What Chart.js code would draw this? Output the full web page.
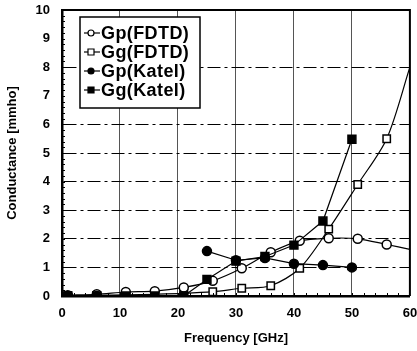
<!DOCTYPE html>
<html lang="en">
<head>
<meta charset="UTF-8">
<title>Conductance vs Frequency</title>
<script src="https://cdn.jsdelivr.net/npm/chart.js"></script>
<style>
  html, body { margin: 0; padding: 0; background: #fff; }
  .wrap { width: 417px; height: 351px; }
</style>
</head>
<body>
<div class="wrap"><canvas id="gChart" width="417" height="351"></canvas></div>
<script>
// values
const freqFDTD = [1, 6, 11, 16, 21, 26, 31, 36, 41, 46, 51, 56, 60];
const gpFDTD = [0.03, 0.06, 0.14, 0.17, 0.3, 0.53, 0.97, 1.53, 1.93, 2.02, 2.0, 1.8, 1.63];
const ggFDTD = [0.01, 0.02, 0.04, 0.06, 0.09, 0.15, 0.27, 0.36, 0.97, 2.34, 3.9, 5.5, 8.0];

const freqKatel = [1, 6, 11, 16, 21, 25, 30, 35, 40, 45, 50];
const gpKatel = [0, 0, null, null, null, 1.57, 1.25, 1.33, 1.13, 1.08, 1.0];
const ggKatel = [0, 0, 0, 0, 0, 0.58, 1.22, 1.38, 1.78, 2.62, 5.48];

const seriesLabels = ['Gp(FDTD)', 'Gg(FDTD)', 'Gp(Katel)', 'Gg(Katel)'];
const xTicks = [0, 10, 20, 30, 40, 50, 60];
const yTicks = [0, 1, 2, 3, 4, 5, 6, 7, 8, 9, 10];

const FONT = '"Liberation Sans", Arial, sans-serif';

function toPoints(xs, ys) {
    return xs.map((x, i) => ({ x: x, y: ys[i] }));
}

// last FDTD value is only the end of the curve at the frame, no marker
const fdtdRadius = freqFDTD.map((f, i) => i === freqFDTD.length - 1 ? 0 : 4.5);
const fdtdRectRadius = freqFDTD.map((f, i) => i === freqFDTD.length - 1 ? 0 : 5.2);

const datasets = [
    {
        label: seriesLabels[0], data: toPoints(freqFDTD, gpFDTD),
        pointStyle: 'circle', pointRadius: fdtdRadius,
        backgroundColor: '#fff', order: 2, tension: 0.3
    },
    {
        label: seriesLabels[1], data: toPoints(freqFDTD, ggFDTD),
        pointStyle: 'rect', pointRadius: fdtdRectRadius,
        backgroundColor: '#fff', order: 3, tension: 0.3
    },
    {
        label: seriesLabels[2], data: toPoints(freqKatel, gpKatel),
        pointStyle: 'circle', pointRadius: 4.5,
        backgroundColor: '#000', order: 0, tension: 0
    },
    {
        label: seriesLabels[3], data: toPoints(freqKatel, ggKatel),
        pointStyle: 'rect', pointRadius: 5.6,
        backgroundColor: '#000', order: 1, tension: 0
    }
].map(d => Object.assign({
    borderColor: '#000',
    borderWidth: 1.2,
    pointBorderWidth: 1.5,
    pointBorderColor: '#000',
    pointBackgroundColor: d.backgroundColor,
    showLine: true,
    spanGaps: false
}, d));

// top/right frame, minor ticks and the boxed legend
const extras = {
    id: 'extras',
    afterDraw(chart) {
        const ctx = chart.ctx;
        const a = chart.chartArea;
        const xs = chart.scales.x, ys = chart.scales.y;
        ctx.save();
        ctx.strokeStyle = '#000';

        ctx.lineWidth = 1;
        for (let v = 0.2; v < 10; v += 0.2) {
            const y = Math.round(ys.getPixelForValue(v)) + 0.5;
            ctx.beginPath(); ctx.moveTo(a.left, y); ctx.lineTo(a.left + 3, y); ctx.stroke();
        }
        for (let v = 2; v < 60; v += 2) {
            const x = Math.round(xs.getPixelForValue(v)) + 0.5;
            ctx.beginPath(); ctx.moveTo(x, a.bottom); ctx.lineTo(x, a.bottom - 3); ctx.stroke();
        }

        ctx.lineWidth = 2;
        ctx.beginPath();
        ctx.moveTo(a.left, a.top);
        ctx.lineTo(a.right, a.top);
        ctx.lineTo(a.right, a.bottom);
        ctx.stroke();

        // legend box
        const bx = 80, by = 17, bw = 120, bh = 91;
        ctx.fillStyle = '#fff';
        ctx.fillRect(bx, by, bw, bh);
        ctx.lineWidth = 1.5;
        ctx.strokeRect(bx, by, bw, bh);

        ctx.font = 'bold 18px ' + FONT;
        ctx.letterSpacing = '0.4px';
        ctx.textBaseline = 'middle';
        chart.data.datasets.forEach((ds, i) => {
            const cy = 33 + i * 19;
            ctx.lineWidth = 1.2;
            ctx.beginPath(); ctx.moveTo(84, cy); ctx.lineTo(100, cy); ctx.stroke();
            ctx.fillStyle = ds.pointBackgroundColor;
            ctx.beginPath();
            if (ds.pointStyle === 'circle') {
                ctx.arc(91, cy, 3, 0, Math.PI * 2);
            } else {
                ctx.rect(88, cy - 3, 6, 6);
            }
            ctx.fill(); ctx.stroke();
            ctx.fillStyle = '#000';
            ctx.fillText(ds.label, 101, cy + 1);
        });
        ctx.restore();
    }
};

const chart = new Chart(document.getElementById('gChart'), {
    type: 'scatter',
    data: { datasets: datasets },
    options: {
        responsive: false,
        animation: false,
        devicePixelRatio: 1,
        layout: { padding: { top: 10, right: 7, left: 0, bottom: 0 } },
        plugins: { legend: { display: false }, tooltip: { enabled: false } },
        scales: {
            x: {
                type: 'linear', min: 0, max: 60,
                afterBuildTicks: s => { s.ticks = xTicks.map(v => ({ value: v })); },
                afterFit: s => { s.height = 55; s.paddingLeft = 0; s.paddingRight = 0; },
                ticks: {
                    color: '#000', padding: 10, maxRotation: 0,
                    font: { family: FONT, size: 13, weight: 'bold' }
                },
                grid: {
                    drawTicks: false, lineWidth: 1,
                    color: c => (c.tick && (c.tick.value === 0 || c.tick.value === 60)) ? 'rgba(0,0,0,0)' : '#555'
                },
                border: { color: '#000', width: 2.5 },
                title: {
                    display: true, text: 'Frequency [GHz]', color: '#000',
                    padding: { top: 0, bottom: 5 },
                    font: { family: FONT, size: 13, weight: 'bold' }
                }
            },
            y: {
                type: 'linear', min: 0, max: 10,
                afterBuildTicks: s => { s.ticks = yTicks.map(v => ({ value: v })); },
                afterFit: s => { s.width = 62; s.paddingTop = 0; s.paddingBottom = 0; },
                ticks: {
                    color: '#000', padding: 12,
                    font: { family: FONT, size: 13, weight: 'bold' }
                },
                grid: {
                    drawTicks: false, lineWidth: 1,
                    color: c => (c.tick && [0, 7, 9, 10].includes(c.tick.value)) ? 'rgba(0,0,0,0)' : '#000'
                },
                border: { color: '#000', width: 2.5, dash: [13, 4, 3, 4] },
                title: {
                    display: true, text: 'Conductance [mmho]', color: '#000',
                    padding: { top: 5, bottom: 0 },
                    font: { family: FONT, size: 13, weight: 'bold' }
                }
            }
        }
    },
    plugins: [extras]
});
</script>
</body>
</html>
